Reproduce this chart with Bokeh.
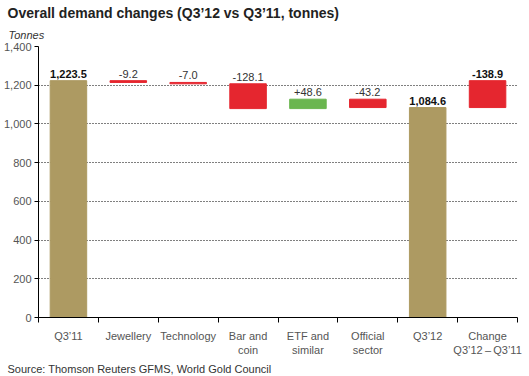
from bokeh.plotting import figure
from bokeh.models import Range1d, FixedTicker, NumeralTickFormatter, Title, ColumnDataSource
from bokeh.embed import file_html
from bokeh.resources import INLINE
from bokeh.core.properties import value

FONT = "Liberation Sans"

categories = ["Q3\u201911", "Jewellery", "Technology", "Bar and\ncoin", "ETF and\nsimilar",
              "Official\nsector", "Q3\u201912", "Change\nQ3\u201912\u2009\u2013\u2009Q3\u201911"]
start_total = 1223.5
changes = [-9.2, -7.0, -128.1, 48.6, -43.2]
end_total = 1084.6
net_change = -138.9
value_labels = ["1,223.5", "-9.2", "-7.0", "-128.1", "+48.6", "-43.2", "1,084.6", "-138.9"]
bold_flags = [True, False, False, False, False, False, True, True]
y_ticks = [0, 200, 400, 600, 800, 1000, 1200, 1400]

GOLD = "#ad9a62"
RED = "#e5262f"
GREEN = "#6ab64f"

# build waterfall geometry from the values
bottoms, tops, colors = [0.0], [start_total], [GOLD]
level = start_total
for c in changes:
    bottoms.append(min(level, level + c))
    tops.append(max(level, level + c))
    colors.append(GREEN if c > 0 else RED)
    level += c
bottoms.append(0.0); tops.append(end_total); colors.append(GOLD)
bottoms.append(min(end_total, end_total - net_change)); tops.append(max(end_total, end_total - net_change)); colors.append(RED)
xs = [i + 0.5 for i in range(len(categories))]

src = ColumnDataSource(dict(x=xs, bottom=bottoms, top=tops, color=colors, label=value_labels))
bold_src = ColumnDataSource(dict(x=[x for x, b in zip(xs, bold_flags) if b],
                                 y=[t for t, b in zip(tops, bold_flags) if b],
                                 label=[l for l, b in zip(value_labels, bold_flags) if b]))
norm_src = ColumnDataSource(dict(x=[x for x, b in zip(xs, bold_flags) if not b],
                                 y=[t for t, b in zip(tops, bold_flags) if not b],
                                 label=[l for l, b in zip(value_labels, bold_flags) if not b]))

p = figure(width=529, height=376, output_backend="svg", toolbar_location=None,
           x_range=Range1d(0, len(categories)), y_range=Range1d(0, 1400),
           min_border_left=31, min_border_right=12, min_border_top=46, min_border_bottom=20,
           title=None)
p.outline_line_color = None
p.background_fill_color = "white"
p.border_fill_color = "white"

p.vbar(x="x", bottom="bottom", top="top", width=0.61, fill_color="color", line_color="color",
       line_width=1, source=src)

p.text(x="x", y="y", text="label", source=norm_src, text_align="center", text_baseline="bottom",
       y_offset=-3, text_font=value(FONT), text_font_size="11px", text_color="#333333")
p.text(x="x", y="y", text="label", source=bold_src, text_align="center", text_baseline="bottom",
       y_offset=-3, text_font=value(FONT), text_font_size="11px", text_font_style="bold",
       text_color="#111111")

# axes
p.xgrid.visible = False
p.ygrid.ticker = FixedTicker(ticks=y_ticks)
p.ygrid.grid_line_color = "black"
p.ygrid.grid_line_dash = "1 2"
p.ygrid.grid_line_width = 1

p.yaxis.ticker = FixedTicker(ticks=y_ticks)
p.yaxis.formatter = NumeralTickFormatter(format="0,0")
p.yaxis.major_tick_out = 4
p.yaxis.major_tick_in = 0
p.yaxis.minor_tick_line_color = None
p.yaxis.axis_line_color = "black"
p.yaxis.major_tick_line_color = "black"
p.yaxis.major_label_text_font = FONT
p.yaxis.major_label_text_font_size = "11px"
p.yaxis.major_label_text_color = "#555555"
p.yaxis.major_label_standoff = 3

p.xaxis.ticker = FixedTicker(ticks=xs, minor_ticks=list(range(len(categories) + 1)))
p.xaxis.major_label_overrides = {x: c for x, c in zip(xs, categories)}
p.xaxis.major_tick_out = 0
p.xaxis.major_tick_in = 0
p.xaxis.minor_tick_out = 5
p.xaxis.minor_tick_in = 0
p.xaxis.minor_tick_line_color = "black"
p.xaxis.axis_line_color = "black"
p.xaxis.major_label_text_font = FONT
p.xaxis.major_label_text_font_size = "11px"
p.xaxis.major_label_text_color = "#555555"
p.xaxis.major_label_standoff = 7

src_title = Title(text="Source: Thomson Reuters GFMS, World Gold Council", align="left",
                  offset=-31, text_font=FONT, text_font_size="11px", text_font_style="normal",
                  text_color="#333333", standoff=4)
p.add_layout(src_title, "below")

main_title = Title(text="Overall demand changes (Q3\u201912 vs Q3\u201911, tonnes)", align="left",
                   offset=-31, text_font=FONT, text_font_size="14px", text_font_style="bold",
                   text_color="#222222", standoff=0)
tonnes = Title(text="Tonnes", align="left", offset=-30, text_font=FONT, text_font_size="11px",
               text_font_style="italic", text_color="#333333", standoff=12)
p.add_layout(tonnes, "above")
p.add_layout(main_title, "above")

open("out.html", "w").write(file_html(p, INLINE))
